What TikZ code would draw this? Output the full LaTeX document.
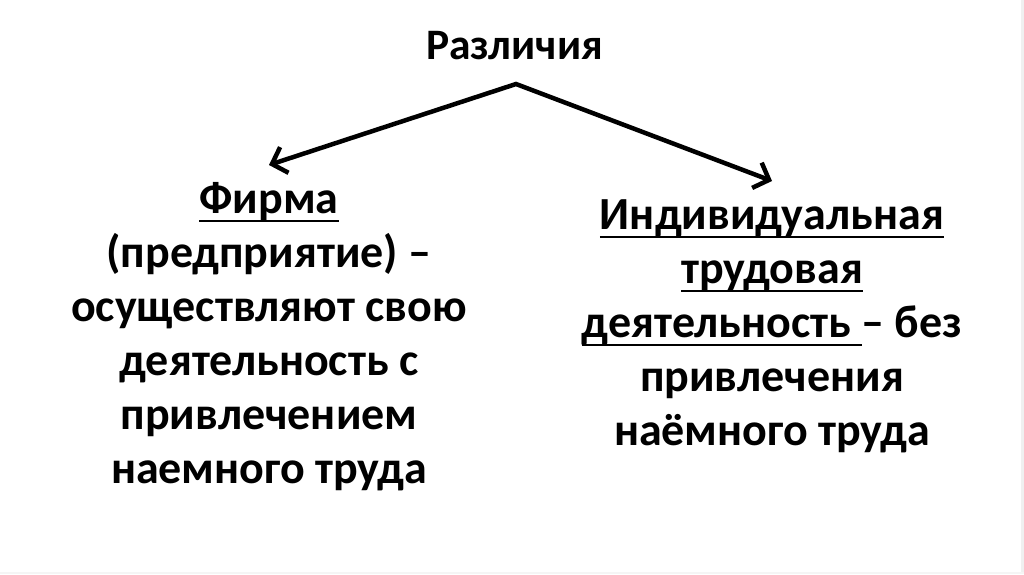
\documentclass[tikz,border=0pt]{standalone}
\usepackage{fontspec}
\setmainfont{Carlito}
\usetikzlibrary{arrows.meta}
\newcommand\myul[1]{\begingroup\setbox0\hbox{#1}\rlap{\rule[-9.4pt]{\wd0}{2.8pt}}\box0\endgroup}
\tikzset{
  txt/.style={font=\bfseries\fontsize{46}{54}\selectfont, inner sep=0pt, text=black},
  ttl/.style={font=\bfseries\fontsize{43.5}{52}\selectfont, inner sep=0pt, text=black},
  conn/.style={line width=4.5pt, line join=miter, draw=black,
    {Straight Barb[length=13pt,width=27pt]}-{Straight Barb[length=13pt,width=27pt]}}
}
\begin{document}
\begin{tikzpicture}[x=1pt,y=-1pt]
\useasboundingbox (0,0) rectangle (1024,574);
\fill[white] (0,0) rectangle (1024,574);
\fill[black!6] (1021,0) rectangle (1024,574);
\fill[black!4] (0,572) rectangle (1024,574);
\node[ttl, anchor=base] (title) at (514.5,59) {Различия};
\node[txt, anchor=base, align=center] (firm) at (269,483)
  {\myul{Фирма}\\(предприятие) –\\осуществляют свою\\деятельность с\\привлечением\\наемного труда};
\node[txt, anchor=base, align=center] (ind) at (772,445)
  {\myul{Индивидуальная}\\\myul{трудовая}\\\myul{деятельность\ }– без\\привлечения\\наёмного труда};
\coordinate (apex) at (516,84);
\coordinate (lt) at (269,165);
\coordinate (rt) at (772,181);
\draw[conn] (lt) -- (apex) -- (rt);
\end{tikzpicture}
\end{document}
